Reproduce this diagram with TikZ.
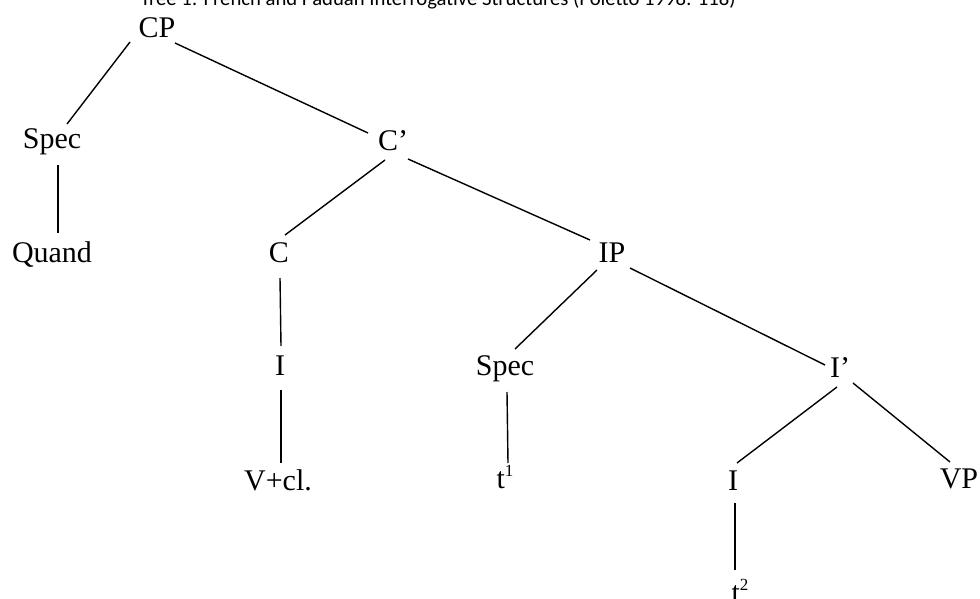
\documentclass[tikz,border=0pt]{standalone}
\usepackage{fontspec}
\setmainfont{Liberation Serif}
\newfontfamily\titlefont{Carlito}
\usetikzlibrary{calc}
\newcommand{\supnum}[1]{\raisebox{12pt}{\fontsize{17}{20}\selectfont #1}}
\begin{document}
\begin{tikzpicture}[x=1pt,y=-1pt,
  lbl/.style={anchor=base, inner sep=0pt, font=\fontsize{30}{36}\selectfont},
  edge/.style={line width=1.4pt}]
\useasboundingbox (0,0) rectangle (980,599);
\clip (0,0) rectangle (980,599);
\node[anchor=base, inner sep=0pt, font=\titlefont\fontsize{20.7}{24}\selectfont] (title) at (438,6)
  {Tree 1: French and Paduan Interrogative Structures (Poletto 1998: 118)};
% nodes
\node[lbl] (CP)    at (157,38)  {CP};
\node[lbl] (SpecL) at (52,149)  {Spec};
\node[lbl] (Cbar)  at (393,150) {C’};
\node[lbl] (Quand) at (52,262)  {Quand};
\node[lbl] (C)     at (279,262) {C};
\node[lbl] (IP)    at (612,262) {IP};
\node[lbl] (Ihi)   at (280,375) {I};
\node[lbl] (SpecR) at (505,375) {Spec};
\node[lbl] (Ibar)  at (840,377) {I’};
\node[lbl] (Vcl)   at (278,490) {V+cl.};
\node[lbl] (t1)    at (505,488) {t\supnum{1}};
\node[lbl] (Ilo)   at (733,490) {I};
\node[lbl] (VP)    at (959,488) {VP};
\node[lbl] (t2)    at (740,602) {t\supnum{2}};
% connectors
\draw[edge] ($(CP.base)+(-27,4)$) -- ($(SpecL.base)+(15,-25)$);
\draw[edge] ($(CP.base)+(18,5)$) -- ($(Cbar.base)+(-25,-17)$);
\draw[edge] ($(SpecL.base)+(6,16)$) -- ($(Quand.base)+(6,-29)$);
\draw[edge] ($(Cbar.base)+(-8,10)$) -- ($(C.base)+(6,-27)$);
\draw[edge] ($(Cbar.base)+(15,9)$) -- ($(IP.base)+(-22,-22)$);
\draw[edge] ($(C.base)+(1,16)$) -- ($(Ihi.base)+(1,-29)$);
\draw[edge] ($(IP.base)+(-15,8)$) -- ($(SpecR.base)+(10,-26)$);
\draw[edge] ($(IP.base)+(18,6)$) -- ($(Ibar.base)+(-15,-12)$);
\draw[edge] ($(Ihi.base)+(1,15)$) -- ($(Vcl.base)+(3,-27)$);
\draw[edge] ($(SpecR.base)+(2,17)$) -- ($(t1.base)+(3,-25)$);
\draw[edge] ($(Ibar.base)+(-3,10)$) -- ($(Ilo.base)+(4,-27)$);
\draw[edge] ($(Ibar.base)+(13,6)$) -- ($(VP.base)+(-9,-26)$);
\draw[edge] ($(Ilo.base)+(2,13)$) -- ($(t2.base)+(-5,-32)$);
\end{tikzpicture}
\end{document}
